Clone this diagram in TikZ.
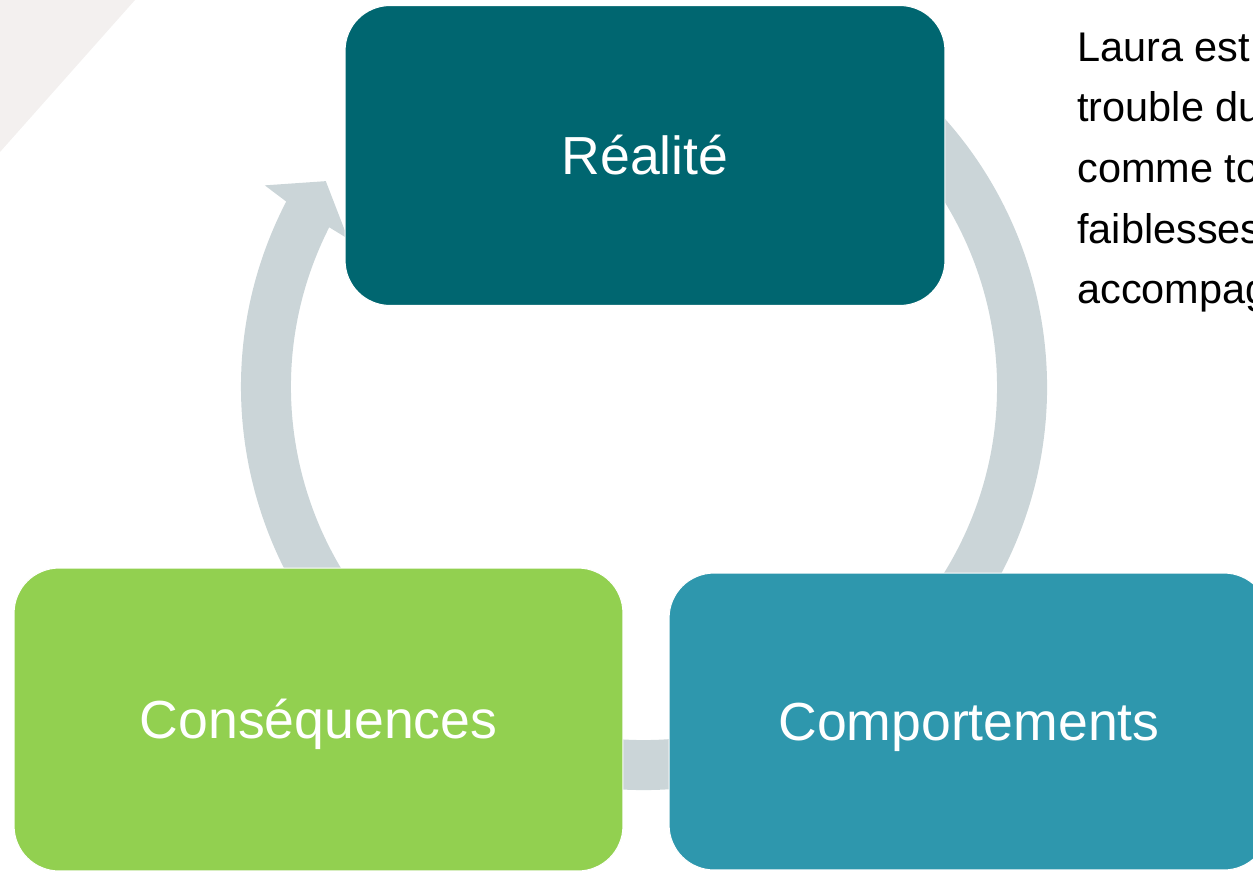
\documentclass[tikz,border=0pt]{standalone}
\usepackage{fontspec}
\setmainfont{Liberation Sans}
\usetikzlibrary{calc}
\definecolor{realcol}{RGB}{0,102,112}
\definecolor{compcol}{RGB}{46,151,173}
\definecolor{conscol}{RGB}{146,208,80}
\definecolor{ringcol}{RGB}{203,213,216}
\definecolor{cornercol}{RGB}{243,240,239}
\tikzstyle{box} = [rectangle, rounded corners = 0.9cm, minimum width = 12cm, minimum height = 6cm, inner sep = 0pt, text centered, draw = white, line width = 0.6pt, text = white, font = \fontsize{30.5pt}{36pt}\selectfont, text height = 27.6pt, text depth = 6.5pt]
\tikzstyle{reality} = [box, fill = realcol]
\tikzstyle{behaviour} = [box, fill = compcol]
\tikzstyle{outcome} = [box, fill = conscol]
\tikzstyle{ring} = [fill = ringcol]
\tikzstyle{story} = [align = left, inner sep = 0pt, font = \fontsize{23.6pt}{34.5pt}\selectfont]

\begin{document}
\begin{tikzpicture}[x = 0.02cm, y = -0.02cm]
    \path[use as bounding box, clip](0,0) rectangle (1253,872);
    \fill[cornercol](0,0) -- (135,0) -- (0,152) -- cycle;

    % cycle arrow behind the boxes
    \coordinate(hub) at (644,387);
    \fill[ring]($(hub)+(-60:403)$) arc[start angle = -60, end angle = 207.4, radius = 403]
        -- ($(hub)+(208:429.5)$) -- ($(hub)+(212.9:379)$) -- ($(hub)+(206.6:331)$)
        -- ($(hub)+(206.9:353)$) arc[start angle = 206.9, end angle = -60, radius = 353] -- cycle;

    \node(real)[reality] at (645,155.5){Réalité};
    \node(cons)[outcome, minimum width = 12.18cm, minimum height = 6.06cm] at (318.5,719.5){Conséquences};
    \node(comp)[behaviour, minimum height = 5.94cm] at (969,721.5){Comportements};

    \node(laura)[story, anchor = north west] at (1077,32.3){Laura est\\trouble du\\comme to\\faiblesses\\accompag};
\end{tikzpicture}
\end{document}
